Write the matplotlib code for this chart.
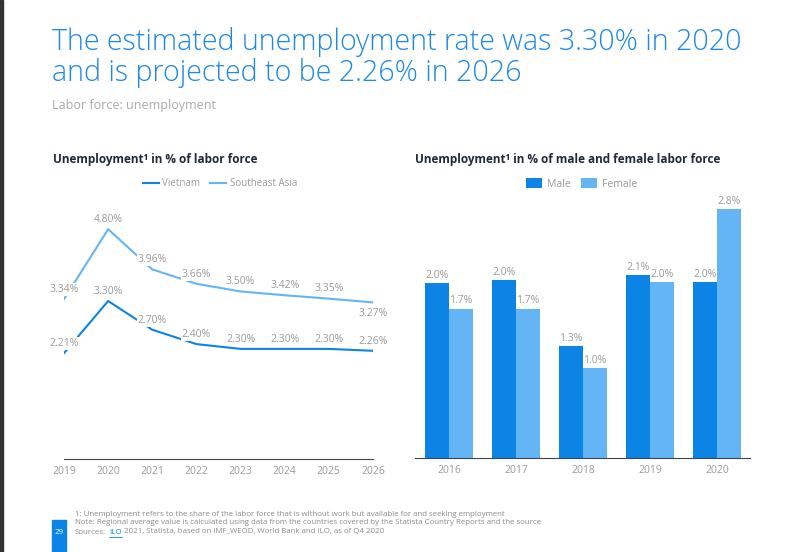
import matplotlib
matplotlib.use('Agg')
import matplotlib.pyplot as plt
import numpy as np

plt.rcParams['font.family'] = ['Open Sans', 'DejaVu Sans']

years = [2019, 2020, 2021, 2022, 2023, 2024, 2025, 2026]
vietnam = [2.21, 3.30, 2.70, 2.40, 2.30, 2.30, 2.30, 2.26]
sea = [3.34, 4.80, 3.96, 3.66, 3.50, 3.42, 3.35, 3.27]

bar_years = ['2016', '2017', '2018', '2019', '2020']
male = [1.97, 2.00, 1.26, 2.06, 1.98]
female = [1.68, 1.68, 1.01, 1.98, 2.80]

blue_dark = '#0b84e5'
blue_light = '#64b5f6'
gray = '#9a9a9a'
navy = '#1d2b3a'

W, H = 799, 552
fig = plt.figure(figsize=(W / 100, H / 100), dpi=100)

def px_axes(x0, y_top, x1, y_bot):
    return fig.add_axes([x0 / W, 1 - y_bot / H, (x1 - x0) / W, (y_bot - y_top) / H])

# left border strip
fig.patches.append(plt.Rectangle((0, 0), 2.5 / W, 1, transform=fig.transFigure,
                                 color='#333333', zorder=10))

# titles
fig.text(52 / W, 1 - 42 / H, 'The estimated unemployment rate was 3.30% in 2020',
         color='#1e88e5', fontsize=20.6, fontweight='light', va='center')
fig.text(52 / W, 1 - 73 / H, 'and is projected to be 2.26% in 2026',
         color='#1e88e5', fontsize=20.6, fontweight='light', va='center')
fig.text(52 / W, 1 - 106 / H, 'Labor force: unemployment', color='#aaaaaa',
         fontsize=9, va='center')

# ---- left chart: lines
ax1 = px_axes(64, 200, 373, 459)
ax1.plot(years, sea, color=blue_light, lw=1.5, zorder=2)
ax1.plot(years, vietnam, color=blue_dark, lw=1.5, zorder=2)
ax1.set_xlim(2019, 2026)
ax1.set_ylim(0, 5.41)
for i, (y, v, s) in enumerate(zip(years, vietnam, sea)):
    for val in (v, s):
        below = (val is s and i == len(years) - 1)
        ax1.annotate('%.2f%%' % val, (y, val), xytext=(0, -8 if below else 7),
                     textcoords='offset points', ha='center', va='center',
                     fontsize=7.5, color=gray, zorder=3,
                     bbox=dict(boxstyle='square,pad=0.1', fc='white', ec='none'))
ax1.set_xticks(years)
ax1.set_yticks([])
for sp in ['left', 'right', 'top']:
    ax1.spines[sp].set_visible(False)
ax1.spines['bottom'].set_color('#3a4656')
ax1.tick_params(axis='x', length=0, colors=gray, labelsize=7.5, pad=5)
ax1.set_facecolor('none')

fig.text(53 / W, 1 - 160 / H, 'Unemployment\u00b9 in % of labor force', color=navy,
         fontsize=8.5, fontweight='bold', va='center')
ax1.legend(handles=[plt.Line2D([], [], color=blue_dark, lw=1.5, label='Vietnam'),
                    plt.Line2D([], [], color=blue_light, lw=1.5, label='Southeast Asia')],
           loc='center', bbox_to_anchor=(220 / W, 1 - 184 / H),
           bbox_transform=fig.transFigure, ncol=2, frameon=False, fontsize=7,
           labelcolor=gray, handlelength=1.6, handletextpad=0.4, columnspacing=1.0)

# ---- right chart: bars
ax2 = px_axes(415, 200, 750, 458)
x = np.arange(len(bar_years))
bw = 24 / 67
ax2.bar(x - bw / 2, male, bw, color=blue_dark, label='Male')
ax2.bar(x + bw / 2, female, bw, color=blue_light, label='Female')
for xi, m, f in zip(x, male, female):
    ax2.annotate('%.1f%%' % m, (xi - bw / 2, m), xytext=(0, 5.5), textcoords='offset points',
                 ha='center', va='center', fontsize=7.5, color=gray)
    ax2.annotate('%.1f%%' % f, (xi + bw / 2, f), xytext=(0, 5.5), textcoords='offset points',
                 ha='center', va='center', fontsize=7.5, color=gray)
ax2.set_xlim(-34 / 67, 301 / 67)
ax2.set_ylim(0, 2.90)
ax2.set_xticks(x)
ax2.set_xticklabels(bar_years)
ax2.set_yticks([])
for sp in ['left', 'right', 'top']:
    ax2.spines[sp].set_visible(False)
ax2.spines['bottom'].set_color('#3a4656')
ax2.tick_params(axis='x', length=0, colors=gray, labelsize=7.5, pad=5)

fig.text(415 / W, 1 - 160 / H, 'Unemployment\u00b9 in % of male and female labor force',
         color=navy, fontsize=8.5, fontweight='bold', va='center')
ax2.legend(loc='center', bbox_to_anchor=(582 / W, 1 - 184 / H),
           bbox_transform=fig.transFigure, ncol=2, frameon=False, fontsize=7.5,
           labelcolor=gray, handlelength=1.5, handleheight=1.1, handletextpad=0.5,
           columnspacing=1.0)

# ---- footer
fig.patches.append(plt.Rectangle((52 / W, 0), 14 / W, 32 / H, transform=fig.transFigure,
                                 color=blue_dark))
fig.text(59 / W, 1 - 532 / H, '29', color='white', fontsize=5.7, ha='center', va='center')
notes = ['1: Unemployment refers to the share of the labor force that is without work but available for and seeking employment',
         'Note: Regional average value is calculated using data from the countries covered by the Statista Country Reports and the source']
for k, line in enumerate(notes):
    fig.text(75 / W, 1 - (514 + 9 * k) / H, line, color='#8a8a8a', fontsize=5.7,
             va='center')

# sources line with the blue ILO link
renderer = fig.canvas.get_renderer()
xpos = 75
for part, col, gap in [('Sources:', '#8a8a8a', 3), ('ILO', blue_dark, 0),
                       (' 2021, Statista, based on IMF_WEOD, World Bank and ILO, as of Q4 2020', '#8a8a8a', 0)]:
    t = fig.text(xpos / W, 1 - 532 / H, part, color=col, fontsize=5.7, va='center')
    bb = t.get_window_extent(renderer)
    if part == 'ILO':
        fig.lines.append(plt.Line2D([bb.x0 / W, bb.x1 / W], [1 - 536.5 / H] * 2,
                                    transform=fig.transFigure, color=blue_dark, lw=0.6))
    xpos = bb.x1 + gap

fig.savefig('out.png', dpi=100)
